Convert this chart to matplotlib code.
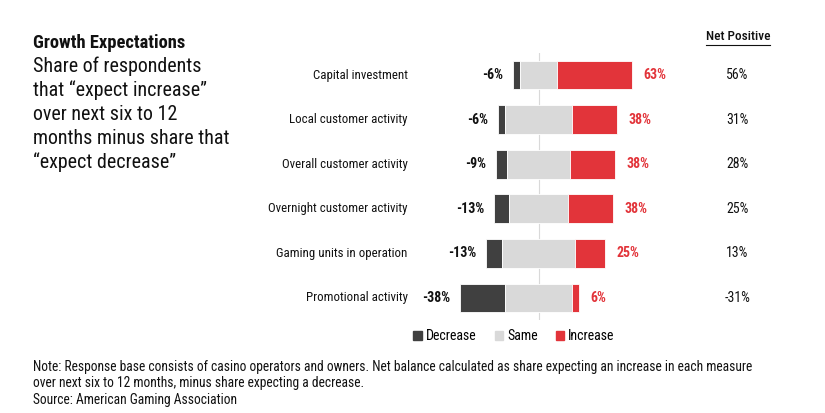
import numpy as np
import matplotlib
matplotlib.use('Agg')
import matplotlib.pyplot as plt
from matplotlib.patches import Patch

plt.rcParams['font.family'] = ['Roboto Condensed', 'Liberation Sans', 'DejaVu Sans']

# data
categories = ['Capital investment', 'Local customer activity', 'Overall customer activity',
              'Overnight customer activity', 'Gaming units in operation', 'Promotional activity']
decrease = [6, 6, 9, 13, 13, 38]
increase = [63, 38, 38, 38, 25, 6]
same = [31, 56, 53, 49, 62, 56]
net = [56, 31, 28, 25, 13, -31]

c_dec = '#404040'
c_same = '#d9d9d9'
c_inc = '#e2343a'
c_txt = '#111111'

fig = plt.figure(figsize=(8.25, 4.13), dpi=100)
ax = fig.add_axes([250 / 825, 1 - 320.3 / 413, 550 / 825, 267.6 / 413])

y = np.arange(len(categories))
dec = np.array(decrease)
sam = np.array(same)
inc = np.array(increase)

# neutral share centered on zero
left_same = -sam / 2
left_dec = left_same - dec
left_inc = sam / 2

ax.axvline(0, color='#d9d9d9', lw=0.8, zorder=0)
h = 0.65
ax.barh(y, dec, left=left_dec, height=h, color=c_dec, edgecolor='white', lw=0.6, zorder=2)
ax.barh(y, sam, left=left_same, height=h, color=c_same, edgecolor='white', lw=0.6, zorder=2)
ax.barh(y, inc, left=left_inc, height=h, color=c_inc, edgecolor='white', lw=0.6, zorder=2)

fs = 10
for i in range(len(categories)):
    ax.text(-110, y[i], categories[i], ha='right', va='center', fontsize=9.3, color=c_txt)
    ax.annotate('-%d%%' % decrease[i], (left_dec[i], y[i]), xytext=(-7, 0),
                textcoords='offset points', ha='right', va='center',
                fontsize=fs, fontweight='bold', color=c_txt)
    ax.annotate('%d%%' % increase[i], (left_inc[i] + inc[i], y[i]), xytext=(8, 0),
                textcoords='offset points', ha='left', va='center',
                fontsize=fs, fontweight='bold', color=c_inc)
    ax.text(167, y[i], '%d%%' % net[i], ha='center', va='center', fontsize=fs, color=c_txt)

hdr = fig.text(738 / 825, 1 - 37 / 413, 'Net Positive', ha='center', va='center',
               fontsize=9.5, fontweight='medium', color=c_txt)

ax.set_xlim(-242.4, 219.7)
ax.set_ylim(len(categories) - 0.5, -0.5)
ax.axis('off')

handles = [Patch(color=c_dec, label='Decrease'), Patch(color=c_same, label='Same'),
           Patch(color=c_inc, label='Increase')]
fig.legend(handles=handles, loc='center', bbox_to_anchor=(514 / 825, 1 - 336 / 413), ncol=3,
           frameon=False, fontsize=fs, handlelength=0.6, handleheight=0.6,
           handletextpad=0.3, columnspacing=1.3)

# title block
fig.text(33 / 825, 1 - 43 / 413, 'Growth Expectations', fontsize=13.3, fontweight='bold',
         va='center', color=c_txt)
sub = ['Share of respondents', 'that \u201cexpect increase\u201d', 'over next six to 12',
       'months minus share that', '\u201cexpect decrease\u201d']
for k, line in enumerate(sub):
    fig.text(33 / 825, 1 - (66 + 24 * k) / 413, line, fontsize=14.4, va='center', color=c_txt)

notes = ['Note: Response base consists of casino operators and owners. Net balance calculated as share expecting an increase in each measure',
         'over next six to 12 months, minus share expecting a decrease.',
         'Source: American Gaming Association']
for k, line in enumerate(notes):
    fig.text(33 / 825, 1 - (367 + 16.5 * k) / 413, line, fontsize=9.75, va='center', color=c_txt)

# underline for the net column header
fig.canvas.draw()
bb = hdr.get_window_extent().transformed(fig.transFigure.inverted())
fig.add_artist(plt.Line2D([bb.x0, bb.x1], [bb.y0 - 1 / 413, bb.y0 - 1 / 413],
                          transform=fig.transFigure, color=c_txt, lw=0.8))

fig.savefig('out.png', dpi=100)
